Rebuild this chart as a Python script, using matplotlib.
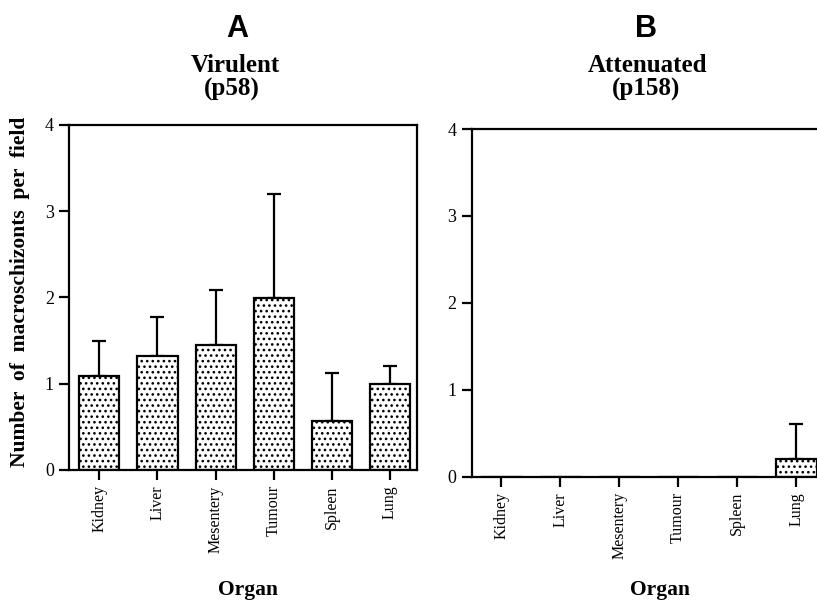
import numpy as np
import matplotlib
matplotlib.use("Agg")
import matplotlib.pyplot as plt

# DADOS

organs = ["Kidney", "Liver", "Mesentery", "Tumour", "Spleen", "Lung"]

virulent_mean = [1.09, 1.32, 1.45, 1.99, 0.57, 1.00]
virulent_err = [0.40, 0.45, 0.64, 1.21, 0.55, 0.21]

attenuated_mean = [0, 0, 0, 0, 0, 0.20]
attenuated_err = [0, 0, 0, 0, 0, 0.41]

yticks = [0, 1, 2, 3, 4]

plt.rcParams["hatch.linewidth"] = 1.1
serif = "Liberation Serif"
sans = "Liberation Sans"

fig = plt.figure(figsize=(8.17, 6.02), dpi=100)


# desenha um painel com barras pontilhadas e barra de erro so para cima
def draw_panel(ax, means, errs, xlim):
    x = np.arange(len(organs))
    ax.bar(x, means, width=0.69, color="white", edgecolor="black",
           linewidth=1.6, hatch="...", zorder=2)
    errs = np.array(errs, dtype=float)
    keep = errs > 0
    ax.errorbar(x[keep], np.array(means)[keep],
                yerr=[np.zeros(keep.sum()), errs[keep]],
                fmt="none", ecolor="black", elinewidth=1.6,
                capsize=5, capthick=1.6, zorder=1)
    ax.set_xlim(*xlim)
    ax.set_ylim(0, 4)
    ax.set_yticks(yticks)
    ax.set_xticks(x)
    ax.set_xticklabels(organs, rotation=90, fontfamily=serif, fontsize=11.5)
    for lab in ax.get_yticklabels():
        lab.set_fontfamily(serif)
        lab.set_fontsize(13)
    ax.tick_params(axis="both", direction="out", length=7, width=1.6, pad=4)
    for sp in ax.spines.values():
        sp.set_linewidth(1.6)


axA = fig.add_axes([0.0848, 0.2193, 0.4262, 0.5731])
draw_panel(axA, virulent_mean, virulent_err, (-0.52, 5.48))

axB = fig.add_axes([0.5773, 0.2082, 0.4333, 0.5775])
draw_panel(axB, attenuated_mean, attenuated_err, (-0.5, 5.5))
axB.spines["right"].set_visible(False)

# titulos
fig.text(0.290, 0.9385, "A", ha="center", va="baseline",
         fontfamily=sans, fontweight="bold", fontsize=22)
fig.text(0.288, 0.880, "Virulent", ha="center", va="baseline",
         fontfamily=serif, fontweight="bold", fontsize=18)
fig.text(0.284, 0.8405, "(p58)", ha="center", va="baseline",
         fontfamily=serif, fontweight="bold", fontsize=18)

fig.text(0.791, 0.9385, "B", ha="center", va="baseline",
         fontfamily=sans, fontweight="bold", fontsize=22)
fig.text(0.793, 0.880, "Attenuated", ha="center", va="baseline",
         fontfamily=serif, fontweight="bold", fontsize=18)
fig.text(0.791, 0.8405, "(p158)", ha="center", va="baseline",
         fontfamily=serif, fontweight="bold", fontsize=18)

# eixos
fig.text(0.0245, 0.516, "Number  of  macroschizonts  per  field",
         rotation=90, ha="center", va="center",
         fontfamily=serif, fontweight="bold", fontsize=15.5)
fig.text(0.3035, 0.012, "Organ", ha="center", va="baseline",
         fontfamily=serif, fontweight="bold", fontsize=15.5)
fig.text(0.808, 0.012, "Organ", ha="center", va="baseline",
         fontfamily=serif, fontweight="bold", fontsize=15.5)

plt.savefig("out.png", dpi=100)
